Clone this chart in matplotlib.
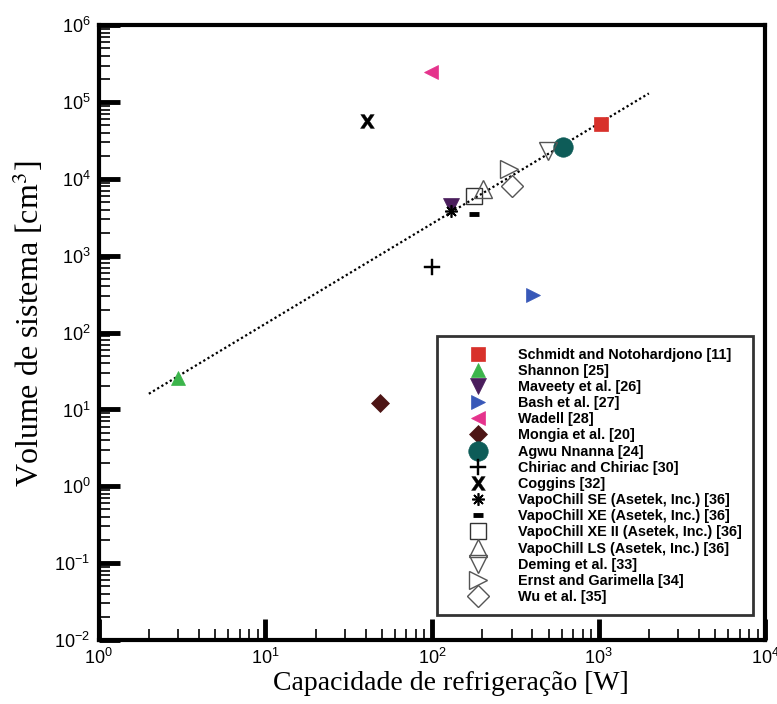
import matplotlib
matplotlib.use("Agg")
import matplotlib.pyplot as plt
from matplotlib.ticker import LogLocator, NullFormatter

plt.rcParams['font.family'] = ['Liberation Sans', 'DejaVu Sans']
plt.rcParams['mathtext.fontset'] = 'custom'
plt.rcParams['mathtext.rm'] = 'Liberation Sans'
plt.rcParams['mathtext.it'] = 'Liberation Sans:italic'

# data: (capacity W, volume cm3)
nomes = ["Schmidt and Notohardjono [11]", "Shannon [25]", "Maveety et al. [26]",
         "Bash et al. [27]", "Wadell [28]", "Mongia et al. [20]", "Agwu Nnanna [24]",
         "Chiriac and Chiriac [30]", "Coggins [32]", "VapoChill SE (Asetek, Inc.) [36]",
         "VapoChill XE (Asetek, Inc.) [36]", "VapoChill XE II (Asetek, Inc.) [36]",
         "VapoChill LS (Asetek, Inc.) [36]", "Deming et al. [33]",
         "Ernst and Garimella [34]", "Wu et al. [35]"]
capacidade = [1030, 3.0, 130, 405, 98, 49, 610, 100, 41, 130, 178, 178, 202, 495, 290, 300]
volume = [52000, 26, 4400, 310, 250000, 12, 26000, 720, 57000, 3800, 3500, 6000, 7400, 23000, 13300, 8000]

ajuste_x = [2, 2000]
ajuste_y = [16, 130000]

# marker, size, face colour, edge colour, edge width
estilos = [
    ('s', 10, '#d8312b', '#d8312b', 0.5),
    ('^', 10, '#3bb54b', '#3bb54b', 0.5),
    ('v', 11, '#4a1d5c', '#4a1d5c', 0.5),
    ('>', 10, '#3858b8', '#3858b8', 0.5),
    ('<', 10, '#e5338c', '#e5338c', 0.5),
    ('D', 9, '#4d1515', '#4d1515', 0.5),
    ('o', 14, '#0e5c58', '#0e5c58', 0.5),
    ('$\\mathbf{+}$', 11, 'k', 'k', 0.3),
    ('$\\mathbf{X}$', 10, 'k', 'k', 0.3),
    ((8, 2, 0), 9, 'k', 'k', 1.2),
    ('_', 7, 'k', 'k', 3.5),
    ('s', 11, 'none', '#333333', 1.0),
    ('^', 13, 'none', '#555555', 1.0),
    ('v', 13, 'none', '#555555', 1.0),
    ('>', 13, 'none', '#555555', 1.0),
    ('D', 11, 'none', '#555555', 1.0),
]

fig = plt.figure(figsize=(7.77, 7.04), dpi=100)
ax = fig.add_axes([0.127, 0.091, 0.858, 0.873])

ax.plot(ajuste_x, ajuste_y, color='k', linestyle=(0, (1, 1.2)), linewidth=1.6, zorder=1)

for i, nome in enumerate(nomes):
    m, ms, fc, ec, ew = estilos[i]
    ax.plot([capacidade[i]], [volume[i]], linestyle='none', marker=m, markersize=ms,
            markerfacecolor=fc, markeredgecolor=ec, markeredgewidth=ew,
            label=nome, zorder=3)

ax.set_xscale('log')
ax.set_yscale('log')
ax.set_xlim(1, 1e4)
ax.set_ylim(1e-2, 1e6)

ax.xaxis.set_major_locator(LogLocator(base=10, numticks=10))
ax.yaxis.set_major_locator(LogLocator(base=10, numticks=20))
ax.xaxis.set_minor_locator(LogLocator(base=10, subs=range(2, 10), numticks=20))
ax.yaxis.set_minor_locator(LogLocator(base=10, subs=range(2, 10), numticks=20))
ax.yaxis.set_minor_formatter(NullFormatter())
ax.xaxis.set_minor_formatter(NullFormatter())

ax.tick_params(which='major', direction='in', length=15, width=3.5, labelsize=13,
               top=False, right=False, pad=6)
ax.tick_params(which='minor', direction='in', length=8, width=1.2, top=False, right=False)
for s in ax.spines.values():
    s.set_linewidth(3)

ax.set_xlabel('Capacidade de refrigeração [W]', family='Liberation Serif', fontsize=20, labelpad=4)
ax.set_ylabel('Volume de sistema [cm$^3$]', family='Liberation Serif', fontsize=23,
              labelpad=6, math_fontfamily='stix')
ax.xaxis.set_label_coords(0.528, -0.051)
ax.yaxis.label.set_y(0.515)

leg = ax.legend(loc='upper left', bbox_to_anchor=(0.507, 0.494), frameon=True, fancybox=False,
                prop={'weight': 'bold', 'size': 10.4}, labelspacing=0.15, handlelength=4.14,
                handletextpad=0.71, borderpad=0.78, borderaxespad=0, numpoints=1,
                markerscale=1.0)
leg.get_frame().set_edgecolor('k')
leg.get_frame().set_linewidth(2)
leg.set_zorder(5)

fig.savefig('out.png', dpi=100)
